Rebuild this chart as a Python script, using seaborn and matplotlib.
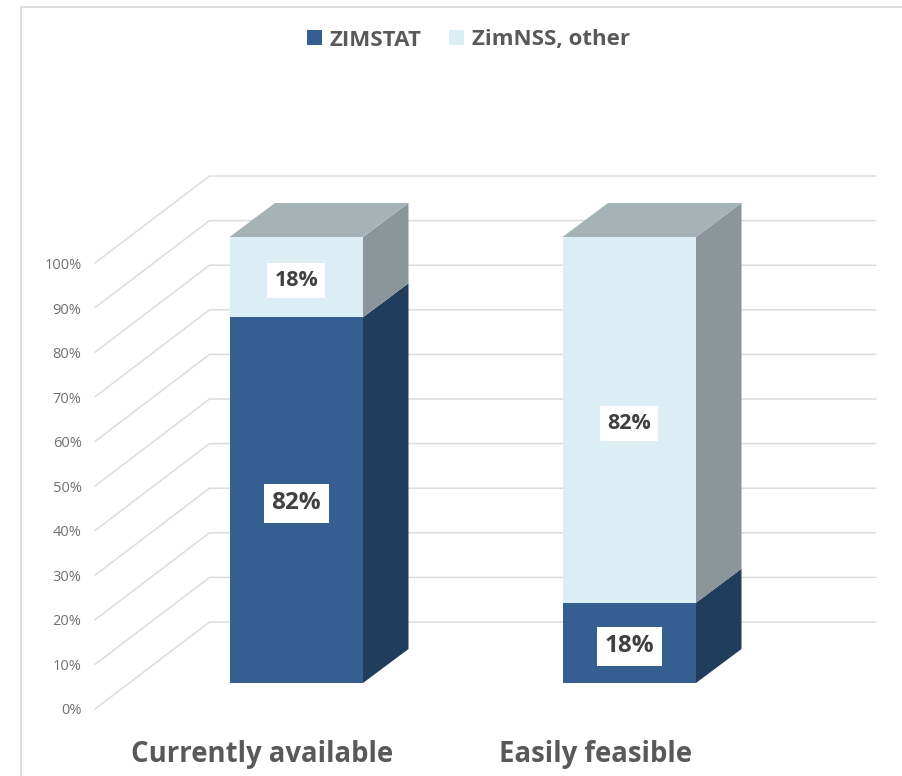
import matplotlib
matplotlib.use("Agg")
import matplotlib.pyplot as plt
import seaborn as sns
from matplotlib.lines import Line2D
from matplotlib.patches import Patch, Polygon
from matplotlib.transforms import ScaledTranslation

categories = ["Currently available", "Easily feasible"]
zimstat = [82, 18]
zimnss = [18, 82]
series_names = ["ZIMSTAT", "ZimNSS, other"]
ticks = list(range(0, 101, 10))

W, H = 902, 776
FONT = "Open Sans"
TEXT = "#595959"
GRID = "#dcdcdc"
DARK, DARK_SIDE = "#365f91", "#213d5c"
LIGHT, LIGHT_SIDE, LIGHT_TOP = "#daeef3", "#8b969a", "#a5b2b6"

sns.set_theme(style="white")
plt.rcParams["font.family"] = [FONT, "DejaVu Sans"]

fig = plt.figure(figsize=(W / 100, H / 100), dpi=100, facecolor="white")


def px_axes(x0, x1, ytop, ybot):
    return [x0 / W, 1 - ybot / H, (x1 - x0) / W, (ybot - ytop) / H]


# Front plane of the bars: 0% at y=683 px, 100% at y=237 px
ax = fig.add_axes(px_axes(95, 876, 237, 683))
ax.patch.set_alpha(0)
PX_X = 333.0  # pixels per category step
CENTER0 = 296.25
PX_Y = 446 / 100
DEPTH_X, DEPTH_Y = 45.5 / PX_X, 34 / PX_Y
BAR_W = 133.5 / PX_X
xl, xr = (95 - CENTER0) / PX_X, (876 - CENTER0) / PX_X
ax.set_xlim(xl, xr)
ax.set_ylim(0, 100)

# 3D wall gridlines, computed from the tick values
corner_x = xl + 114.5 / PX_X
for v in ticks:
    y_back = v + 61 / PX_Y
    y_front = v - 26 / PX_Y
    ax.plot([xl, corner_x, xr], [y_front, y_back, y_back], color=GRID, lw=1.1,
            clip_on=False, zorder=0, solid_joinstyle="miter")

sns.barplot(x=categories, y=zimstat, color=DARK, width=BAR_W, saturation=1,
            ax=ax, zorder=3, linewidth=0)
sns.barplot(x=categories, y=zimnss, bottom=zimstat, color=LIGHT, width=BAR_W,
            saturation=1, ax=ax, zorder=3, linewidth=0)
ax.set_xlim(xl, xr)
ax.set_ylim(0, 100)

# Side and top faces of the stacked bars
for i, (a, b) in enumerate(zip(zimstat, zimnss)):
    x1 = i + BAR_W / 2
    x0 = i - BAR_W / 2
    for lo, hi, col in [(0, a, DARK_SIDE), (a, a + b, LIGHT_SIDE)]:
        ax.add_patch(Polygon([(x1, lo), (x1 + DEPTH_X, lo + DEPTH_Y),
                              (x1 + DEPTH_X, hi + DEPTH_Y), (x1, hi)],
                             closed=True, fc=col, ec="none", clip_on=False, zorder=3))
    ax.add_patch(Polygon([(x0, a + b), (x0 + DEPTH_X, a + b + DEPTH_Y),
                          (x1 + DEPTH_X, a + b + DEPTH_Y), (x1, a + b)],
                         closed=True, fc=LIGHT_TOP, ec="none", clip_on=False, zorder=3))

# Data labels: the dark series is set slightly larger than the light one
for container, size, pad in zip(ax.containers, [17.5, 15.5], [5.5, 5]):
    labels = ax.bar_label(container, fmt="%g%%", label_type="center", fontsize=size,
                          fontweight="bold", color="#404040", zorder=5,
                          family=[FONT, "DejaVu Sans"])
    for t in labels:
        t.set_bbox(dict(facecolor="white", edgecolor="none", pad=pad))
        t.set_zorder(6)
        t.xyann = (0, -2.4)

# Category axis
ax.set_xticks([0, 1], categories)
ax.tick_params(axis="x", length=0, pad=41, labelsize=19.8, labelcolor=TEXT)
shift = ScaledTranslation(-34 / 100, 0, fig.dpi_scale_trans)
for t in ax.get_xticklabels():
    t.set_fontweight("bold")
    t.set_transform(t.get_transform() + shift)
ax.set_yticks([])
sns.despine(ax=ax, left=True, bottom=True)

# Value axis, drawn on the shifted front edge of the 3D wall
ay = fig.add_axes(px_axes(85, 95, 263.5, 709))
ay.patch.set_alpha(0)
ay.set_ylim(0, 100)
ay.set_xticks([])
ay.set_yticks(ticks, [f"{v}%" for v in ticks])
ay.tick_params(axis="y", length=0, pad=2.5, labelsize=10.5, labelcolor="#707070")
sns.despine(ax=ay, left=True, bottom=True)

# Legend
handles = [Patch(fc=DARK, ec="none"), Patch(fc=LIGHT, ec="none")]
leg = fig.legend(handles, series_names, loc="center", bbox_to_anchor=(468.5 / W, 1 - 40 / H),
                 ncol=2, frameon=False, handlelength=0.66, handleheight=0.66,
                 handletextpad=0.35, columnspacing=1.25,
                 prop=dict(family=FONT, size=16, weight="bold"))
for t in leg.get_texts():
    t.set_color(TEXT)

# Outer chart frame
fig.add_artist(Line2D([21 / W, 21 / W], [0, 1 - 7 / H], color=GRID, lw=1.3))
fig.add_artist(Line2D([21 / W, 1], [1 - 7 / H, 1 - 7 / H], color=GRID, lw=1.3))

fig.savefig("out.png", dpi=100, facecolor="white")
